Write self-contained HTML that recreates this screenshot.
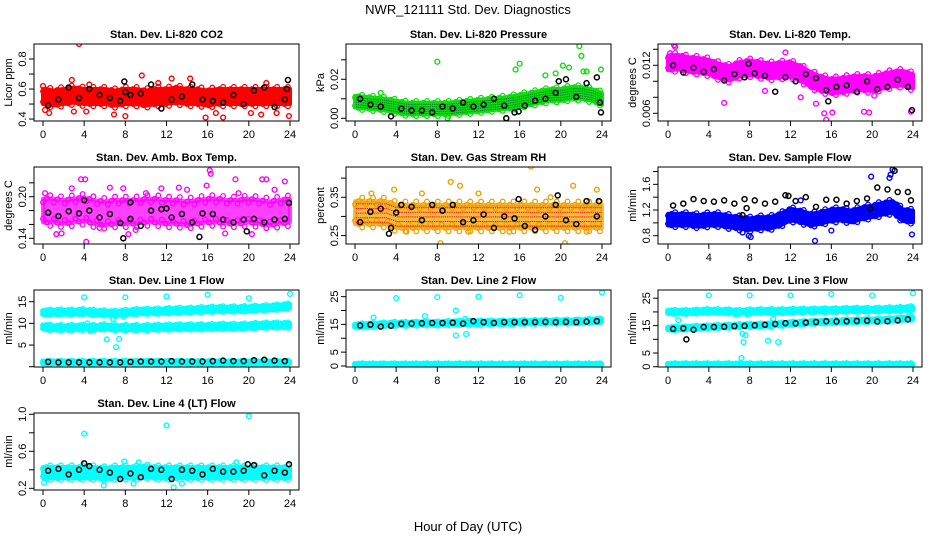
<!DOCTYPE html>
<html><head><meta charset="utf-8"><style>
body{margin:0;background:#fff;}
svg{display:block;font-family:"Liberation Sans",Arial,sans-serif;}
</style></head><body>
<svg id="c" width="936" height="540" viewBox="0 0 936 540">
<text x="468" y="14" font-size="13" text-anchor="middle">NWR_121111  Std. Dev. Diagnostics</text>
<text x="468" y="531" font-size="13" text-anchor="middle">Hour of Day (UTC)</text>
</svg>
<script>
// ---- data ----
const hourTicks=[0,4,8,12,16,20,24];
// CO2
const co2Band=[0.55,0.54,0.55,0.56,0.55,0.55,0.55,0.54,0.55,0.55,0.54,0.55,0.55,0.56,0.55,0.55,0.54,0.55,0.55,0.55,0.55,0.55,0.55,0.55,0.55];
const co2OutX=[0,0.2,0.6,2.8,3.5,4.2,4.5,6.9,8,9.6,12.5,14.3,15.8,17.5,16.8,20.2,21.2,21.7,23.9,22.7,11.2,3];
const co2OutY=[0.62,0.46,0.44,0.66,0.9,0.45,0.63,0.43,0.42,0.69,0.67,0.67,0.41,0.41,0.44,0.44,0.43,0.64,0.42,0.44,0.64,0.45];
const co2Black=[0.49,0.53,0.61,0.54,0.60,0.56,0.54,0.52,0.56,0.57,0.63,0.47,0.53,0.55,0.63,0.53,0.52,0.51,0.56,0.50,0.59,0.61,0.48,0.53];
const co2BlackX=[23.8,23.7,7.9,8];
const co2BlackY=[0.66,0.60,0.65,0.58];
// Pressure
const presBand=[0.0085,0.008,0.0075,0.007,0.006,0.005,0.005,0.005,0.005,0.005,0.0055,0.006,0.0065,0.007,0.0075,0.008,0.009,0.010,0.011,0.012,0.012,0.013,0.013,0.012,0.010];
const presOutX=[2.5,8,15.6,16,18.5,19.5,20.2,20.8,21.8,22,22.2,22.5,23.9,9,14.7];
const presOutY=[0.013,0.029,0.025,0.028,0.022,0.023,0.027,0.026,0.037,0.032,0.024,0.024,0.025,0.0,0.0];
const presBlack=[0.010,0.007,0.006,0.001,0.005,0.004,0.004,0.003,0.006,0.005,0.008,0.006,0.007,0.010,0.0065,0.003,0.0065,0.009,0.010,0.013,0.020,0.011,0.018,0.021];
const presBlackX=[14.7,15.9,23.9,23.8,19.8];
const presBlackY=[0.0,0.0035,0.003,0.008,0.019];
// Li-820 Temp
const tempBand=[0.0123,0.0124,0.0121,0.0120,0.0118,0.0113,0.0110,0.0115,0.0117,0.0115,0.0113,0.0114,0.0115,0.0110,0.0102,0.0097,0.0094,0.0095,0.0097,0.0098,0.0097,0.0100,0.0103,0.0104,0.0100];
const tempOutX=[0.2,0.6,0.7,5.5,11.5,14.5,15.3,15.5,16.1,19.2,19.7,23.8,20.2,13,9.5];
const tempOutY=[0.0135,0.0145,0.0143,0.0073,0.0136,0.0072,0.006,0.0052,0.0061,0.0062,0.0061,0.0062,0.0082,0.0080,0.0088];
const tempBlack=[0.0120,0.0111,0.0117,0.0112,0.0115,0.0101,0.0109,0.0105,0.0110,0.0107,0.0087,0.0105,0.0100,0.0109,0.0104,0.0089,0.0093,0.0095,0.0087,0.0100,0.0090,0.0093,0.0102,0.0093];
const tempBlackX=[15.7,23.9,7.9];
const tempBlackY=[0.0075,0.0064,0.0122];
// Amb box temp
const ambBand=[0.180,0.180,0.178,0.180,0.182,0.178,0.176,0.178,0.178,0.178,0.180,0.180,0.178,0.178,0.176,0.178,0.180,0.180,0.178,0.178,0.180,0.178,0.176,0.178,0.180];
const ambOutX=[3.7,4.1,16.2,16.3,4.2,1.3,1.8,8.3,15.9,18.7,21.3,21.7,23.5,20.3,17.7,0.2,2.8,7.8,11.5,13.2,6.5,10,14,19,22.5,9,5.5];
const ambOutY=[0.225,0.225,0.238,0.233,0.135,0.146,0.147,0.146,0.216,0.225,0.225,0.225,0.222,0.146,0.147,0.205,0.212,0.212,0.212,0.213,0.213,0.205,0.21,0.205,0.21,0.152,0.155];
const ambBlack=[0.177,0.172,0.179,0.176,0.180,0.170,0.175,0.162,0.168,0.158,0.180,0.182,0.170,0.175,0.163,0.176,0.175,0.167,0.163,0.167,0.168,0.163,0.167,0.168];
const ambBlackX=[4,7.8,15.2,19.8,23.9,12,8.5];
const ambBlackY=[0.195,0.140,0.142,0.150,0.191,0.183,0.192];
// RH
const rhBand=[0.31,0.31,0.31,0.31,0.30,0.30,0.30,0.30,0.30,0.30,0.30,0.30,0.30,0.30,0.30,0.30,0.30,0.30,0.30,0.30,0.30,0.30,0.30,0.30,0.30];
const rhOutX=[9.3,10.2,17.1,17.7,21.2,23.5,13.7,8.3,20.4,3.8,1.6,5,12,15,19,22.5,6.5,11];
const rhOutY=[0.39,0.38,0.43,0.37,0.38,0.37,0.22,0.23,0.23,0.37,0.36,0.26,0.36,0.26,0.35,0.26,0.36,0.26];
const rhBlack=[0.285,0.312,0.32,0.27,0.33,0.325,0.29,0.33,0.315,0.33,0.285,0.29,0.305,0.27,0.30,0.295,0.275,0.265,0.30,0.33,0.29,0.28,0.34,0.30];
const rhBlackX=[3.3,4,15.9,19.7,23.7];
const rhBlackY=[0.255,0.31,0.345,0.355,0.34];
// Sample flow
const sfBand=[1.05,1.05,1.05,1.03,1.05,1.05,1.02,1.00,0.98,1.00,1.00,1.05,1.13,1.10,1.05,1.08,1.12,1.13,1.10,1.15,1.18,1.22,1.25,1.12,1.10];
const sfOutX=[7.3,7.9,8.1,14.4,23.9,21.8,22,21.7,19.9,13,16];
const sfOutY=[0.85,0.80,0.78,0.72,0.82,1.75,1.83,1.70,1.72,1.35,0.88];
const sfBlack=[1.27,1.30,1.37,1.34,1.33,1.35,1.30,1.37,1.35,1.30,1.33,1.43,1.34,1.40,1.25,1.36,1.36,1.30,1.34,1.38,1.55,1.52,1.48,1.48];
const sfBlackX=[7.7,7.3,19.8,22.2,23.8,11.8];
const sfBlackY=[1.23,1.12,1.22,1.81,1.35,1.42];
// Line 1
const l1BandHigh=[12.5,12.6,12.6,12.6,12.7,12.5,12.4,12.3,12.5,12.7,12.8,12.8,12.9,13.0,13.0,13.1,13.2,13.3,13.3,13.3,13.4,13.5,13.6,13.8,14.0];
const l1BandMid=[9.2,9.0,9.0,9.0,9.1,9.0,9.2,9.0,9.0,9.0,9.0,9.1,9.1,9.2,9.2,9.2,9.2,9.3,9.3,9.3,9.4,9.5,9.6,9.6,9.6];
const l1BandLow=[1.0,1.0,1.0,1.0,1.0,1.0,1.0,1.0,1.0,1.0,1.0,1.0,1.0,1.0,1.0,1.0,1.0,1.0,1.0,1.0,1.0,1.0,1.0,1.0,1.0];
const l1OutX=[4,8,12,16,20,24,6.2,7.1,7.4,6.8,7,7.8,4.3,4.6];
const l1OutY=[16,16,16.2,16.6,15.8,16.8,6.3,4.5,6.4,11,12,11.5,10,8.2];
const l1Black=[1.1,1.0,1.0,1.0,1.0,1.0,1.0,1.0,1.1,1.2,1.2,1.2,1.3,1.2,1.2,1.2,1.3,1.4,1.3,1.3,1.5,1.6,1.4,1.3];
// Line 2
const l2BandMain=[14.5,14.7,14.8,15.0,15.2,15.2,15.3,15.4,15.3,15.5,15.6,15.6,15.6,15.7,15.7,15.7,15.8,15.8,15.9,15.9,16.0,16.0,16.1,16.3,16.5];
const l2BandLow=[0.5,0.5,0.5,0.5,0.5,0.5,0.5,0.5,0.5,0.5,0.5,0.5,0.5,0.5,0.5,0.5,0.5,0.5,0.5,0.5,0.5,0.5,0.5,0.5,0.5];
const l2OutX=[4,8,12,16,20,24,1.8,6.8,9.8,9.8,10.8,10.7];
const l2OutY=[24.5,24.8,25,25.5,24.6,26.5,17.5,18,20,11,11.5,17];
const l2Black=[14.6,14.9,14.2,14.5,15.2,15.3,15.4,15.5,15.5,15.6,15.3,16.2,15.8,15.5,15.8,15.8,15.8,15.8,15.9,15.8,15.9,15.8,16.0,16.2];
// Line 3
const l3BandTop=[20,20,20,20.2,20.3,20.3,20.2,20,20.2,20.3,20.3,20.3,20.4,20.5,20.5,20.6,20.6,20.7,20.8,20.8,20.8,20.9,21,21.1,21.4];
const l3BandMid=[14,14,14.2,14.4,14.5,14.7,14.8,15,15.1,15.2,15.3,15.5,15.8,16,16.2,16.3,16.4,16.6,16.7,16.8,16.9,17,17.2,17.5,17.8];
const l3BandLow=[0.8,0.8,0.8,0.8,0.8,0.8,0.8,0.8,0.8,0.8,0.8,0.8,0.8,0.8,0.8,0.8,0.8,0.8,0.8,0.8,0.8,0.8,0.8,0.8,0.8];
const l3OutX=[4,8,12,16,20,24,7.2,7.4,9.8,10.8,7.3,7.6,7.8,1,6.6,10.3];
const l3OutY=[26,26,26,26.5,26,26.8,3.2,9,9.5,9,12,11.5,19,17,19,17.5];
const l3Black=[13.8,14,13.5,14.5,14.5,14.6,14.8,14.9,15.1,15.3,15.6,15.9,15.8,16.1,16.3,16.6,16.5,16.6,16.7,16.8,16.5,16.6,16.9,17.3];
const l3BlackX=[1.8];
const l3BlackY=[10];
// Line 4
const l4Band=[0.37,0.37,0.37,0.37,0.37,0.37,0.36,0.37,0.37,0.37,0.38,0.37,0.37,0.37,0.37,0.37,0.37,0.37,0.37,0.37,0.37,0.37,0.37,0.37,0.37];
const l4OutX=[4,12,20,0.1,5.9,8.8,13.5,12.7,9.3,18.8,7.9];
const l4OutY=[0.79,0.88,0.98,0.26,0.23,0.25,0.25,0.21,0.48,0.48,0.49];
const l4Black=[0.39,0.41,0.35,0.40,0.44,0.40,0.37,0.30,0.36,0.32,0.41,0.40,0.30,0.40,0.39,0.35,0.41,0.38,0.38,0.39,0.45,0.34,0.39,0.37];
const l4BlackX=[4,19.9,23.9];
const l4BlackY=[0.47,0.46,0.46];

// ---- layout ----
const cols=[[34,299,43,290],[346,611,355,602],[658,922,668,913]];
const rows=[[44,121],[167,244],[290,367],[413,490]];
const NS='http://www.w3.org/2000/svg';
const svg=document.getElementById('c');
function mk(tag,attrs,parent){const e=document.createElementNS(NS,tag);for(const k in attrs)e.setAttribute(k,attrs[k]);(parent||svg).appendChild(e);return e;}

const panels=[
 {key:'co2',title:'Stan. Dev. Li-820 CO2',yl:'Licor ppm',c:0,r:0,dom:[0.387,0.9],ticks:[0.4,0.5,0.6,0.7,0.8],labs:['0.4','','0.6','','0.8'],col:'#ff0000',op:1,bands:[[co2Band,0.05]],ox:co2OutX,oy:co2OutY,bk:co2Black,bx:co2BlackX,by:co2BlackY},
 {key:'pressure',title:'Stan. Dev. Li-820 Pressure',yl:'kPa',c:1,r:0,dom:[-0.0014,0.0381],ticks:[0,0.01,0.02,0.03],labs:['0.00','','0.02',''],col:'#11dd11',op:1,bands:[[presBand,0.003]],ox:presOutX,oy:presOutY,bk:presBlack,bx:presBlackX,by:presBlackY},
 {key:'li820-temp',title:'Stan. Dev. Li-820 Temp.',yl:'degrees C',c:2,r:0,dom:[0.00504,0.01466],ticks:[0.006,0.008,0.010,0.012,0.014],labs:['0.006','','','0.012',''],col:'#ff00ff',op:1,bands:[[tempBand,0.0009]],ox:tempOutX,oy:tempOutY,bk:tempBlack,bx:tempBlackX,by:tempBlackY},
 {key:'amb-box-temp',title:'Stan. Dev. Amb. Box Temp.',yl:'degrees C',c:0,r:1,dom:[0.1318,0.2428],ticks:[0.14,0.16,0.18,0.20,0.22],labs:['0.14','','','0.20',''],col:'#ff00ff',op:0.75,bands:[[ambBand,0.017]],ox:ambOutX,oy:ambOutY,bk:ambBlack,bx:ambBlackX,by:ambBlackY},
 {key:'gas-rh',title:'Stan. Dev. Gas Stream RH',yl:'percent',c:1,r:1,dom:[0.228,0.429],ticks:[0.25,0.30,0.35,0.40],labs:['0.25','','0.35',''],col:'#f2a000',op:0.75,bands:[[rhBand,0.03]],ox:rhOutX,oy:rhOutY,bk:rhBlack,bx:rhBlackX,by:rhBlackY},
 {key:'sample-flow',title:'Stan. Dev. Sample Flow',yl:'ml/min',c:2,r:1,dom:[0.671,1.87],ticks:[0.8,1.0,1.2,1.4,1.6,1.8],labs:['0.8','','1.2','','1.6',''],col:'#0000ff',op:1,bands:[[sfBand,0.09]],ox:sfOutX,oy:sfOutY,bk:sfBlack,bx:sfBlackX,by:sfBlackY},
 {key:'line1-flow',title:'Stan. Dev. Line 1 Flow',yl:'ml/min',c:0,r:2,dom:[-0.07,17.7],ticks:[0,5,10,15],labs:['','5','10','15'],col:'#00ffff',op:1,bands:[[l1BandHigh,0.5],[l1BandMid,0.5],[l1BandLow,0.3]],ox:l1OutX,oy:l1OutY,bk:l1Black,bx:[],by:[]},
 {key:'line2-flow',title:'Stan. Dev. Line 2 Flow',yl:'ml/min',c:1,r:2,dom:[-0.36,27.4],ticks:[0,5,10,15,20,25],labs:['0','5','','15','','25'],col:'#00ffff',op:1,bands:[[l2BandMain,0.6],[l2BandLow,0.4]],ox:l2OutX,oy:l2OutY,bk:l2Black,bx:[],by:[]},
 {key:'line3-flow',title:'Stan. Dev. Line 3 Flow',yl:'ml/min',c:2,r:2,dom:[-0.1,28.0],ticks:[0,5,10,15,20,25],labs:['0','5','','15','','25'],col:'#00ffff',op:1,bands:[[l3BandTop,0.6],[l3BandMid,0.5],[l3BandLow,0.4]],ox:l3OutX,oy:l3OutY,bk:l3Black,bx:l3BlackX,by:l3BlackY},
 {key:'line4-flow',title:'Stan. Dev. Line 4 (LT) Flow',yl:'ml/min',c:0,r:3,dom:[0.1816,1.014],ticks:[0.2,0.4,0.6,0.8,1.0],labs:['0.2','','0.6','','1.0'],col:'#00ffff',op:1,bands:[[l4Band,0.06]],ox:l4OutX,oy:l4OutY,bk:l4Black,bx:l4BlackX,by:l4BlackY}
];

function interp(arr,t){const i=Math.min(Math.floor(t),arr.length-2);const f=t-i;return arr[i]*(1-f)+arr[i+1]*f;}

panels.forEach(p=>{
 const [L,R,X0,X24]=cols[p.c];const [T,B]=rows[p.r];
 const xs=h=>X0+(X24-X0)*h/24;
 const ys=v=>B-(B-T)*(v-p.dom[0])/(p.dom[1]-p.dom[0]);
 const g=mk('g',{});
 
 
 const cp='clip-'+p.key;
 const cl=mk('clipPath',{id:cp},g);mk('rect',{x:L,y:T,width:R-L,height:B-T},cl);
 const plot=mk('g',{'clip-path':'url(#'+cp+')'},g);
 
 
 p.bands.forEach(([arr,sp],bi)=>{
  let up=[],dn=[];
  for(let t=0;t<=24.001;t+=0.5){up.push(xs(t)+','+ys(interp(arr,t)+sp));dn.unshift(xs(t)+','+ys(interp(arr,t)-sp));}
  const poly=mk('polygon',{points:up.concat(dn).join(' '),fill:p.col,'fill-opacity':p.op,stroke:p.col,'stroke-width':4,'stroke-opacity':p.op,'stroke-linejoin':'round'},plot);
  
  
  for(let t=0;t<=24.001;t+=0.35){
   [-1,1].forEach(k=>{
    const c=mk('circle',{cx:xs(t),cy:ys(interp(arr,t)+k*sp*(1+0.3*((Math.round(t*20))%3-1))),r:2.3,fill:'none',stroke:p.col,'stroke-width':1.3},plot);
    
    
   });
  }
 });
 if(p.key==='pressure'||p.key==='gas-rh'){
  const sc=p.key==='pressure'?'#063':'#e00';
  p.bands.forEach(([arr,sp])=>{for(let t=0.1;t<24;t+=0.18){for(let k=-0.8;k<=0.81;k+=0.4){const d=mk('rect',{x:xs(t),y:ys(interp(arr,t)+k*sp),width:1,height:1,fill:sc},plot);}}});
 }
 p.ox.forEach((x,i)=>{
  const c=mk('circle',{cx:xs(x),cy:ys(p.oy[i]),r:2.4,fill:'none',stroke:p.col,'stroke-width':1.4},plot);
  
  
 });
 p.bk.forEach((v,i)=>{
  const c=mk('circle',{cx:xs(i+0.5),cy:ys(v),r:2.5,fill:'none',stroke:'#000','stroke-width':1.5},plot);
  
  
 });
 p.bx.forEach((x,i)=>{
  const c=mk('circle',{cx:xs(x),cy:ys(p.by[i]),r:2.5,fill:'none',stroke:'#000','stroke-width':1.5},plot);
  
  
 });
 const box=mk('rect',{x:L,y:T,width:R-L,height:B-T,fill:'none',stroke:'#000','stroke-width':1},g);
 
 
 const tt=mk('text',{x:(L+R)/2,y:T-6,'font-size':11,'font-weight':'bold','text-anchor':'middle'},g);
 tt.textContent=p.title;
 
 
 mk('line',{x1:X0,y1:B,x2:X24,y2:B,stroke:'#000'},g);
 hourTicks.forEach(h=>{
  mk('line',{x1:xs(h),y1:B,x2:xs(h),y2:B+5,stroke:'#000'},g);
  const t=mk('text',{x:xs(h),y:B+17,'font-size':11,'text-anchor':'middle'},g);
  t.textContent=h;
  
  
 });
 mk('line',{x1:L,y1:ys(p.ticks[0]),x2:L,y2:ys(p.ticks[p.ticks.length-1]),stroke:'#000'},g);
 p.ticks.forEach((v,i)=>{
  mk('line',{x1:L-5,y1:ys(v),x2:L,y2:ys(v),stroke:'#000'},g);
  if(p.labs[i]){
   const t=mk('text',{x:0,y:0,'font-size':11,'text-anchor':'middle',transform:'translate('+(L-8)+','+ys(v)+') rotate(-90)'},g);
   t.textContent=p.labs[i];
   
   
  }
 });
 const yl=mk('text',{x:0,y:0,'font-size':11,'text-anchor':'middle',transform:'translate('+(L-22)+','+((T+B)/2)+') rotate(-90)'},g);
 yl.textContent=p.yl;
 
 
});
</script>
</body></html>
